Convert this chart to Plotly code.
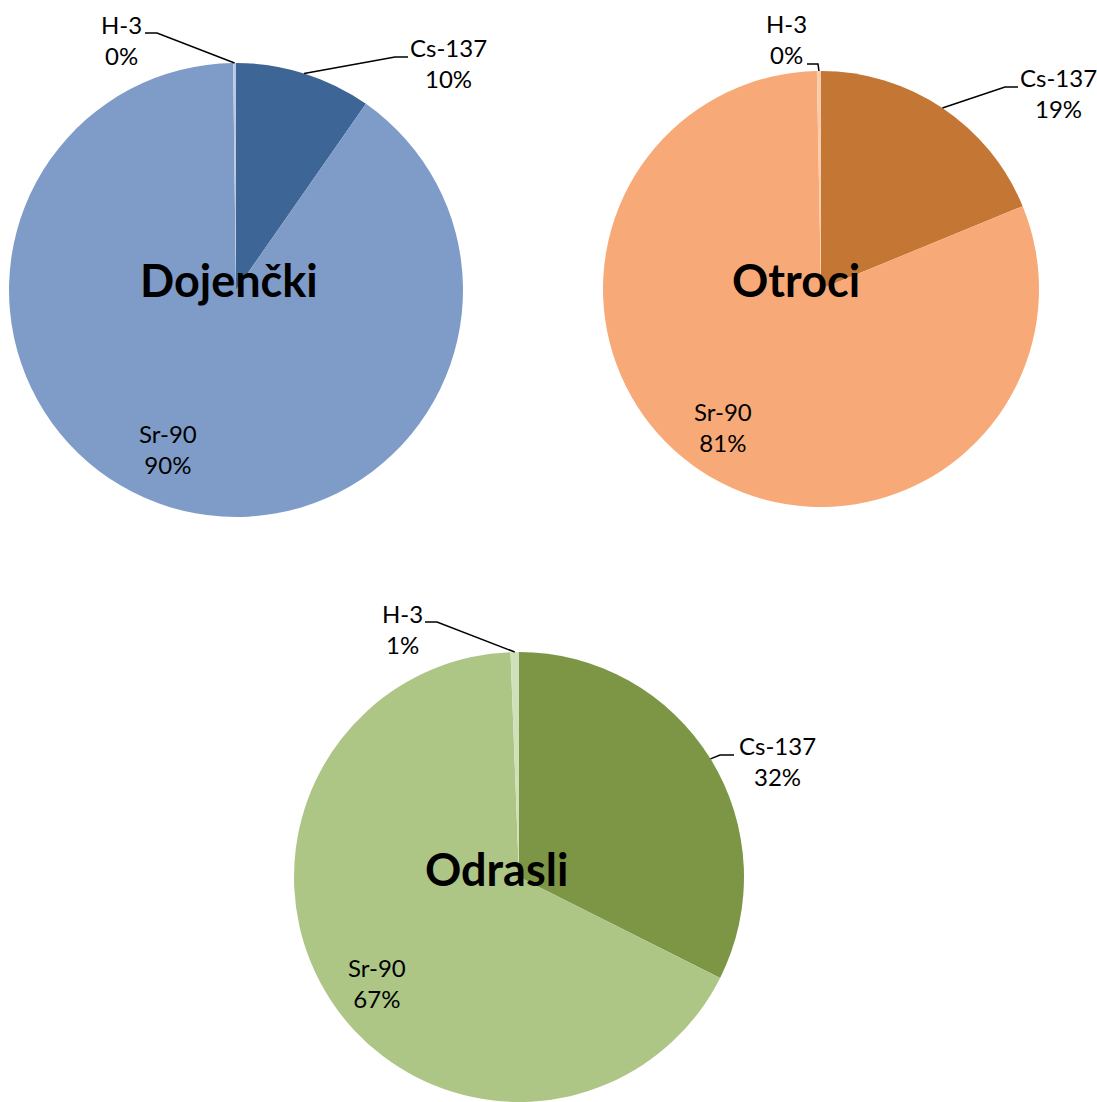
import plotly.graph_objects as go
import math

# Dose contribution by radionuclide for each age group (%)
nuclides = ["Cs-137", "Sr-90", "H-3"]
groups = ["Dojenčki", "Otroci", "Odrasli"]
dojencki = [9.7, 90.1, 0.2]
otroci = [18.8, 80.9, 0.3]
odrasli = [32.4, 67.0, 0.6]
series = [dojencki, otroci, odrasli]

# Slice colours per group: Cs-137, Sr-90, H-3
palettes = [
    ["#3D6596", "#7F9CC8", "#B9C9E2"],
    ["#C47734", "#F7AA78", "#FBCBAB"],
    ["#7C9646", "#ADC686", "#D0E0BA"],
]

W, H = 1097, 1102
FONT = "Lato"

# Pie placement in pixels: centre x, centre y, radius
pie_geom = [(236, 290, 227), (821, 289, 218), (519, 877, 225)]
# Title centres (pixels)
title_pos = [(229, 280), (796, 280), (496, 869)]
# Per-pie label layout (pixels): text centre, leader elbow, leader end
label_layout = [
    {"Cs-137": ((448, 63), (395, 57), (408, 57)),
     "H-3": ((121, 40), (157, 33), (145, 33)),
     "Sr-90": ((168, 449), None, None)},
    {"Cs-137": ((1058, 93), (1005, 87), (1018, 87)),
     "H-3": ((786, 39), (818, 64), (807, 64)),
     "Sr-90": ((723, 427), None, None)},
    {"Cs-137": ((777, 761), (720, 755), (734, 755)),
     "H-3": ((402, 629), (437, 622), (425, 622)),
     "Sr-90": ((377, 983), None, None)},
]


def px(x):
    return x / W


def py(y):
    return 1 - y / H


fig = go.Figure()
annotations = []
shapes = []

for g, (name, vals, cols, (cx, cy, r), tpos, lay) in enumerate(
        zip(groups, series, palettes, pie_geom, title_pos, label_layout)):
    fig.add_trace(go.Pie(
        labels=nuclides,
        values=vals,
        sort=False,
        direction="clockwise",
        rotation=0,
        marker=dict(colors=cols, line=dict(width=0)),
        textinfo="none",
        hoverinfo="label+percent",
        showlegend=False,
        domain=dict(x=[px(cx - r), px(cx + r)], y=[py(cy + r), py(cy - r)]),
        name=name,
    ))

    total = sum(vals)
    start = 0.0
    for lab, v in zip(nuclides, vals):
        share = v / total
        mid = (start + share / 2) * 2 * math.pi
        start += share
        text_c, elbow, end = lay[lab]
        annotations.append(dict(
            x=px(text_c[0]), y=py(text_c[1]), xref="paper", yref="paper",
            text=f"{lab}<br>{round(share * 100)}%", showarrow=False,
            xanchor="center", yanchor="middle", align="center",
            font=dict(family=FONT, size=24, color="#000000"),
        ))
        if elbow is not None:
            # leader line from the slice's mid-point on the rim
            ax = cx + r * math.sin(mid)
            ay = cy - r * math.cos(mid)
            path = (f"M {px(ax)} {py(ay)} L {px(elbow[0])} {py(elbow[1])} "
                    f"L {px(end[0])} {py(end[1])}")
            shapes.append(dict(type="path", path=path, xref="paper", yref="paper",
                               line=dict(color="#000000", width=1.5)))

    annotations.append(dict(
        x=px(tpos[0]), y=py(tpos[1]), xref="paper", yref="paper",
        text=f"<b>{name}</b>", showarrow=False, xanchor="center", yanchor="middle",
        font=dict(family=FONT, size=45, color="#000000"),
    ))

fig.update_layout(
    width=W, height=H,
    margin=dict(l=0, r=0, t=0, b=0),
    paper_bgcolor="#FFFFFF",
    plot_bgcolor="#FFFFFF",
    annotations=annotations,
    shapes=shapes,
)

fig.write_html("out.html")
